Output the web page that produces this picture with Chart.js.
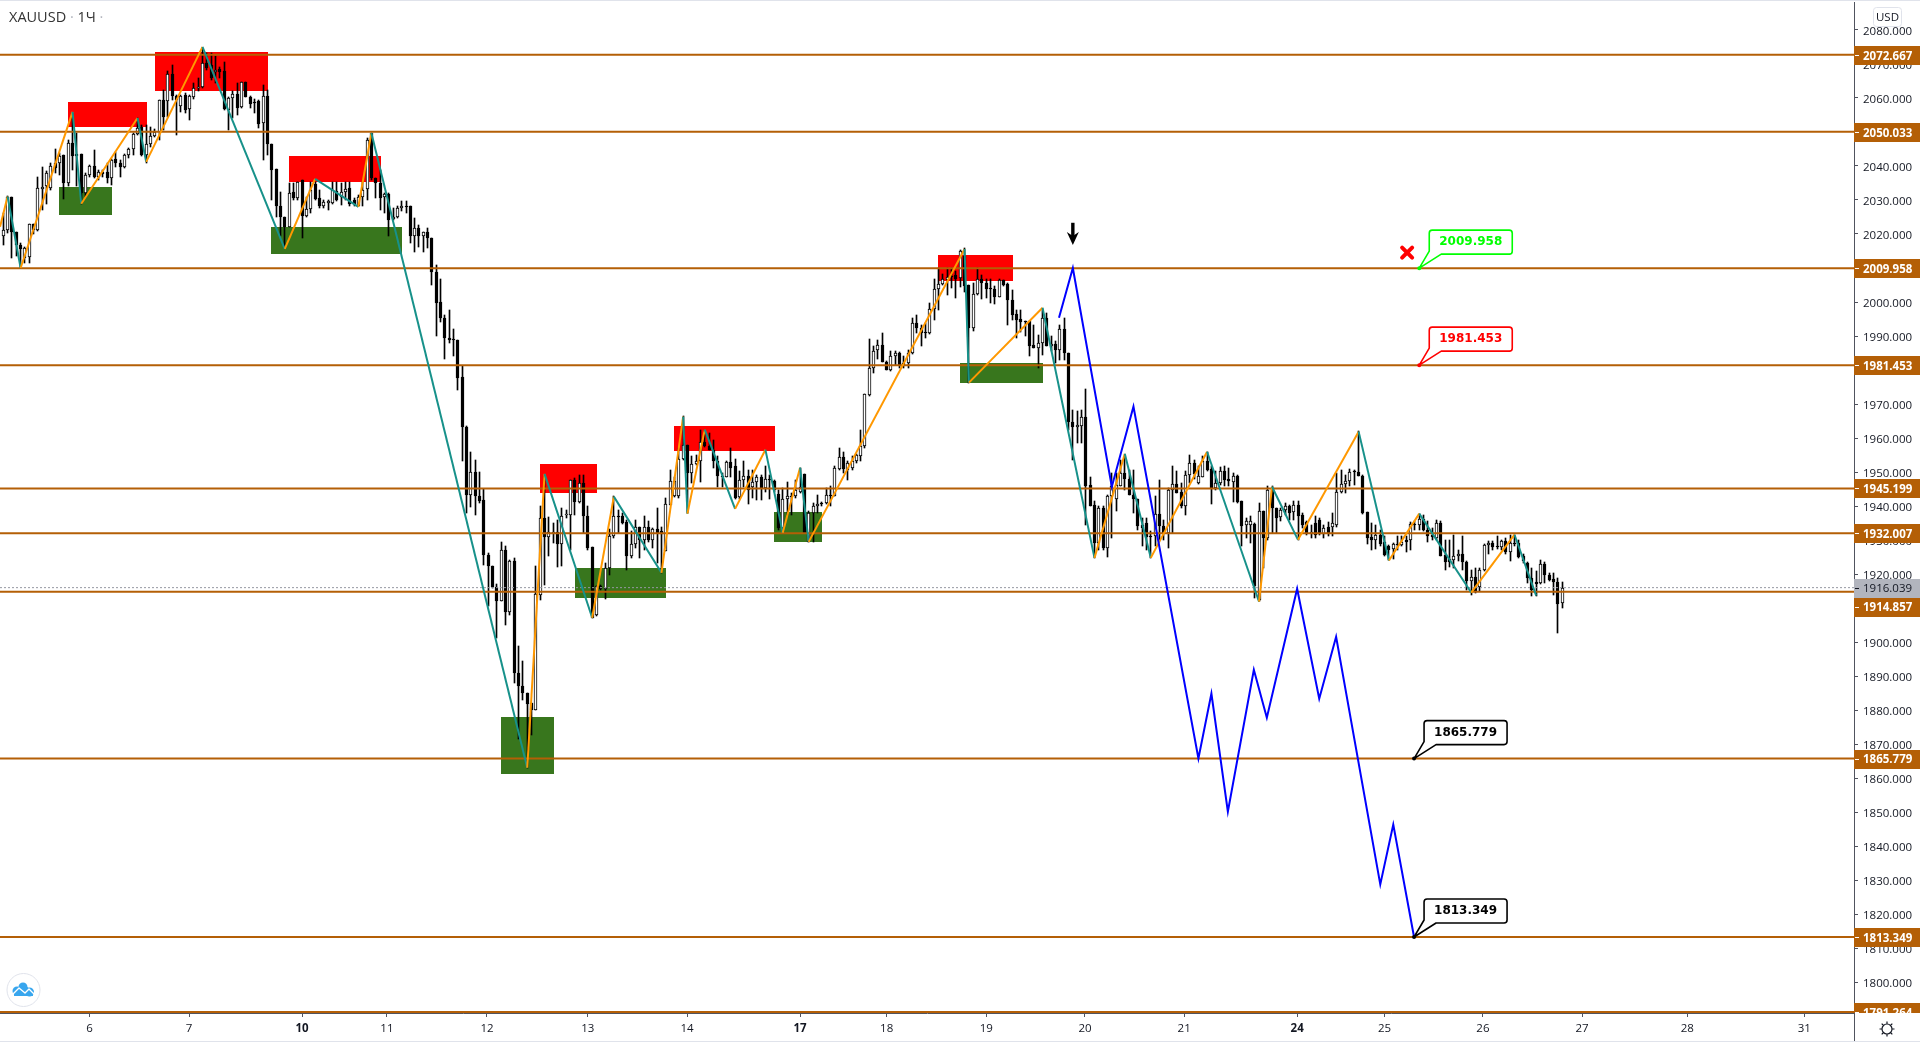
<!DOCTYPE html>
<html>
<head>
<meta charset="utf-8">
<title>XAUUSD</title>
<script src="https://cdn.jsdelivr.net/npm/chart.js@4"></script>
<style>
html, body { margin: 0; padding: 0; background: #fff; overflow: hidden; }
#grafico { display: block; }
</style>
</head>
<body>
<canvas id="grafico" width="1920" height="1044"></canvas>
<script>
const opens = [
2019.3,2021.2,2031,2020.5,2016.8,2012.9,2013.2,2023,2021.2,2033.3,
2034,2033.5,2040.8,2041,2043.3,2035.1,2046.7,2043.6,2043.6,2032,
2037.4,2040,2036.7,2038.1,2038.1,2036.4,2042,2041,2039.8,2043.1,
2044.9,2049.4,2051.6,2043.3,2046.5,2048.8,2050.1,2059.4,2059.2,2067.1,
2060.6,2057.7,2060.9,2056.7,2060.4,2062.8,2063.1,2070.4,2069.7,2067.5,
2068.4,2067.9,2056.5,2059.9,2061.2,2057.3,2064.7,2060.4,2058.9,2059.2,
2052.6,2060.6,2046.5,2039,2028.3,2025,2022.2,2032.2,2030.5,2035.9,
2025.3,2027.3,2034.6,2030.5,2028.3,2029.1,2029.1,2032.5,2031,2032.2,
2033.5,2030,2028.3,2031,2033.2,2049.6,2036.4,2034.9,2030.8,2031.8,
2024.4,2025,2027.6,2028.3,2028.3,2019.5,2021.7,2019.3,2020.5,2018.8,
2008.7,2000,1995.3,1989.5,1989,1988.9,1977.9,1963.3,1943.2,1950,
1943,1941.9,1925.7,1922.3,1916.1,1912,1927.2,1909,1923.9,1891,
1887.2,1885,1882,1880.2,1914,1936.5,1931,1932.2,1932.4,1929,
1937.5,1937.5,1947.8,1941.1,1946.8,1937.2,1928,1908,1916.6,1915.6,
1921.8,1931.1,1937.2,1937.2,1935.4,1925.2,1929,1933.9,1930.1,1933.9,
1930.1,1933.3,1932.6,1926.7,1940.4,1942.9,1942.9,1953.8,1958,1949.7,
1952.4,1953.4,1959,1957.6,1956.6,1953.2,1949,1948.7,1953,1951.7,
1942.6,1947.8,1949,1945.6,1947.1,1948.6,1945.4,1948,1947.4,1943.5,
1933.6,1942.1,1943,1942.9,1944.3,1949.5,1929.6,1938,1940,1940.9,
1940.9,1943.3,1942.9,1951,1954.4,1950.7,1951.2,1953.2,1954.8,1957.8,
1972.7,1980.6,1985.8,1987.4,1982.5,1979.9,1984,1985,1982,1982,
1985,1993.8,1992.3,1991.1,1990.9,1997.9,2003.8,2005.4,2006.5,2007.7,
2008,2007,2013.6,2005,1992.5,2002.3,2006.7,2005.7,2004.1,2003.8,
2001.6,2006.5,2005.3,2000.6,1996.4,1995,1994.3,1994.3,1987.4,1986.6,
1987.9,1995.3,1987.2,1987.7,1985.8,1992,1985,1964.6,1963.2,1963.7,
1966.2,1946.2,1940.4,1929.2,1939.4,1927.7,1942.9,1942,1946,1949.7,
1948,1943.4,1942.1,1934.5,1935,1931.3,1931.1,1937.8,1934.3,1932.1,
1944.8,1946.5,1944.3,1939.9,1949.2,1952.7,1946.8,1948.7,1953.2,1950.9,
1945.3,1946.8,1950.2,1948,1947,1949,1941.4,1934.5,1934.5,1934.8,
1912.5,1938.5,1930.6,1945.3,1939.4,1936.7,1938.8,1940.1,1938.2,1940.4,
1937.5,1935.2,1932,1935,1935.8,1931.9,1933.8,1933.9,1934.5,1944.3,
1946.5,1947.3,1950.3,1950,1949,1938.3,1930.8,1930.1,1931.6,1929.6,
1928.2,1927.4,1929,1928.7,1930.1,1930.1,1934.8,1934.5,1936.2,1933,
1931.6,1930.6,1935,1925.7,1924.5,1924.3,1925.2,1926,1923.5,1917.9,
1919.2,1916.1,1921.1,1928.5,1929.2,1928.4,1928,1929.8,1926.4,1929.3,
1929.1,1925.2,1923.3,1918.9,1917.6,1917.4,1923.1,1919.8,1918.7,1917.7,1911.5]

const closes = [
2021.2,2031,2020.5,2016.8,2015.5,2015.8,2023,2021.2,2033.5,2033.8,
2037.9,2040,2039.3,2043,2035.1,2046.7,2042.8,2042.8,2032,2037.4,
2040,2036.7,2038.1,2037.7,2036.4,2041.8,2041,2039.8,2043.3,2044.9,
2049.4,2051.1,2043.3,2046.5,2048.8,2050.1,2059.4,2054.5,2067.1,2060.6,
2059.4,2060.6,2056.5,2060.6,2062.8,2063.1,2070.4,2068.7,2065.8,2068.2,
2067.7,2056.7,2059.9,2061.2,2057,2064.7,2060.4,2058.2,2058.4,2052.4,
2060.6,2046.5,2038.9,2028.1,2025,2022.2,2032,2030.5,2035.4,2025.3,
2027.3,2033,2030.3,2028.3,2029.4,2029.6,2033,2030,2032.3,2033.2,
2028.9,2028.9,2031,2033,2047.7,2036.4,2034.9,2030.5,2031.8,2024.2,
2025,2027.6,2028.1,2028.1,2019.5,2021.7,2019.3,2020.5,2018.8,2008.7,
1999.7,1995.3,1989.3,1988.9,1988.7,1977.8,1963.2,1943.2,1950,1942.9,
1941.6,1925.5,1922.3,1916.1,1912,1927,1909,1923.8,1891,1887.2,
1885,1881.7,1880,1914.3,1936.5,1930.9,1932.3,1932.4,1929,1937,
1937.8,1947.8,1941.1,1946.8,1937,1927.7,1907,1916.6,1915.6,1921.8,
1931.3,1937.2,1936.8,1935,1925.2,1929,1933.9,1930.1,1933.9,1930,
1933.3,1932.1,1931.9,1940.6,1947.5,1947.5,1953.8,1958,1949.7,1952.4,
1953.4,1959,1957.6,1956.6,1953.2,1949,1948.6,1953,1951.3,1942.4,
1947.8,1949,1944.8,1947.1,1948.6,1945.3,1948,1947.6,1944.8,1933.6,
1942.1,1942.9,1942.7,1944.6,1945.6,1932.1,1938,1940,1940.6,1940.5,
1943.3,1943.1,1951.2,1954.4,1950.9,1952.7,1953.2,1955.1,1957.8,1973,
1980.6,1985.5,1987.4,1982.5,1979.9,1984,1985,1981.6,1981.6,1985,
1993.8,1992.3,1990.9,1990.8,1997.9,2003.8,2005.4,2006.7,2007.3,2007.3,
2006.7,2015.1,2004.6,1992.5,2002.3,2006.7,2005.7,2003.8,2003.8,2001.6,
2006.5,2005,2000.5,1996.3,1994.8,1994,1994,1987.2,1986.6,1987.9,
1995.3,1987,1987.6,1985.8,1992,1985,1964.6,1963.2,1963.9,1966.2,
1946,1940.1,1929.2,1939.4,1927.7,1943,1945.8,1946.3,1949.7,1948,
1943.4,1942.1,1934.3,1933.5,1930.9,1930.9,1937.8,1934.06,1932.1,1944.8,
1946.5,1944,1940,1949.2,1952.7,1949.5,1949,1953.2,1950.7,1945.3,
1946.8,1950.2,1947.8,1947.3,1949,1941.1,1934.06,1935.5,1935.5,1916.4,
1938.5,1930.6,1944.8,1939.4,1936.5,1939,1940.1,1938,1940.4,1937.2,
1934.5,1932.1,1932.5,1931.6,1931.9,1933.6,1931.9,1934.9,1944.3,1946.5,
1947.5,1950,1950,1948.9,1938,1930.6,1930.1,1931.6,1929,1925.7,
1927,1929,1928.8,1929.6,1929.6,1934.8,1934.4,1936.2,1933,1931.1,
1930.9,1935,1925.4,1923.5,1923.5,1925.4,1926,1923.5,1917.9,1919.2,
1914.7,1921.3,1928.7,1929.2,1927.9,1928,1929.8,1926.4,1929.3,1929.1,
1925,1924,1918.9,1915.4,1917.1,1923.1,1919.7,1918.4,1917.6,1911.3,1916.04]

const highs = [
2026.1,2031.2,2031,2020.7,2017.3,2016.1,2023,2023,2036.9,2039.8,
2038.4,2040.8,2045,2043.7,2043.3,2047.7,2055.7,2049.8,2043.6,2037.9,
2040.3,2044.7,2038.9,2038.9,2040.8,2042,2044.2,2041.8,2043.6,2045.2,
2049.8,2054.2,2052,2052,2051.6,2050.8,2059.4,2062.2,2067.9,2069.7,
2060.9,2060.9,2061.4,2060.9,2064.3,2065.8,2074.6,2073.1,2073.1,2072.2,
2069.2,2070.7,2060.4,2061.9,2064.3,2064.8,2064.8,2060.6,2059.6,2059.4,
2063.8,2062.4,2046.5,2039,2032.2,2025,2034.9,2034.9,2035.4,2035.9,
2031,2035.4,2035.4,2033,2030,2030,2035.4,2035.4,2035.1,2035.4,
2035.4,2030.5,2031.5,2035.4,2048.2,2049.6,2036.4,2038.9,2032,2032,
2027.6,2028.3,2029.6,2029.8,2028.3,2024.6,2022.7,2020.7,2021.7,2018.8,
2010.9,2006.7,1996.3,1997.7,1992,1988.9,1981.3,1963.6,1956,1953.6,
1950,1945.1,1926.2,1922.3,1917.2,1929.6,1928.2,1924.3,1924.8,1899,
1894.4,1885,1882,1922.3,1939.9,1949,1936.8,1935,1935.8,1939.4,
1939,1947.8,1948.3,1949.2,1949.2,1940.1,1928,1916.6,1916.9,1923.3,
1933.3,1942.9,1939,1938,1935.8,1932.6,1936,1934,1937.2,1935.5,
1933.6,1939.4,1934,1942.4,1950.7,1948.7,1957,1966.4,1958,1954.6,
1955.1,1962.3,1962.5,1961.5,1959.5,1954.6,1949.7,1953.3,1957,1953.8,
1950.2,1953.4,1950.7,1950.7,1949.2,1949.2,1951.7,1949.2,1947.8,1944.8,
1945.3,1947,1943.8,1947.8,1951.2,1949.5,1938.5,1940.9,1943.4,1941.1,
1945.3,1946,1951.7,1957,1955.8,1953.2,1954.8,1955.2,1962.4,1973,
1989.1,1987,1988.9,1990.9,1982.7,1985.5,1985.5,1985.2,1984,1986,
1995.3,1996.2,1993.3,1993.8,1999.7,2006.7,2010,2008.3,2010,2010,
2009,2015.4,2015.8,2005,2005.5,2010,2008,2006.7,2006.7,2004.8,
2006.7,2006.5,2005.5,2003.6,1997.7,1997.7,1994.3,1994.3,1993.3,1990.4,
1998,1996.7,1989.9,1988.4,1993.3,1995.3,1985,1968.3,1968.1,1968.3,
1974.4,1948.7,1941.4,1940.1,1940,1943.4,1949.7,1949.7,1953.6,1954.6,
1950.7,1950.7,1942.1,1936.5,1936.5,1932.6,1942.9,1947.8,1936,1945.3,
1951.7,1950.2,1946.8,1950.2,1955.1,1953.6,1951.7,1954.6,1956,1951.7,
1950.2,1951.5,1951.7,1951.2,1949.7,1949.2,1941.4,1936.6,1937,1935,
1941,1938.5,1945.8,1945.8,1939.4,1939.4,1941,1940.4,1941.4,1941.4,
1938,1935.5,1934.5,1937,1936.5,1934.5,1935.2,1938,1949.7,1950.7,
1949.2,1950.9,1950.7,1962,1949.2,1938.3,1935,1934.5,1933,1931.1,
1928.7,1929.2,1931.3,1931.1,1931.3,1935.2,1935.5,1937.8,1937.5,1935.5,
1933.5,1935.8,1935.5,1930,1930,1931.6,1927,1931.1,1923.8,1921.3,
1921.8,1921.8,1929,1929.7,1929.7,1931.3,1930.1,1930.6,1931.6,1931.6,
1930.1,1926,1923.5,1921.8,1920.8,1924.1,1923.5,1920.3,1920.3,1918.9,1917.7]

const lows = [
2016.8,2020.2,2012.9,2013.4,2010,2011.4,2011.4,2019.9,2021,2027.1,
2028.9,2033,2037.9,2037.4,2030.3,2034,2038.8,2034,2028.9,2031,
2036.9,2036.4,2036,2036.9,2035,2034.4,2039.8,2036.9,2039.3,2042.3,
2043.3,2049.1,2042.8,2040.8,2045.7,2048.4,2047.7,2050.6,2054.5,2059.4,
2049.1,2056,2055.5,2053.4,2059.6,2061.9,2062.8,2068.2,2065.3,2064.3,
2065.8,2056.5,2050.6,2054,2055,2057,2060.4,2057,2055.5,2051.1,
2041.8,2043.3,2030,2025.1,2019.3,2015.8,2022,2030,2030,2018.8,
2025,2026.1,2030,2027.6,2027.6,2027.1,2028.9,2029.8,2028.6,2030,
2028.1,2028.1,2028.1,2028.1,2030,2035.9,2030.5,2027.1,2026.1,2019.3,
2024.2,2024.7,2026.9,2026.1,2017.3,2014.6,2016.3,2014.8,2015.8,2005.1,
1989.9,1994,1983.4,1987.9,1984,1974,1953.2,1938,1939.7,1937.5,
1940.9,1922.8,1910.5,1916,1901.2,1912,1905.2,1908,1888,1871.4,
1883,1863,1872.8,1880,1912.5,1916.9,1925.4,1929.2,1922,1922.3,
1936.5,1927.2,1937.5,1941,1932.1,1927,1907.1,1907.8,1915.4,1912.8,
1919.8,1930.6,1932.1,1934.8,1921.3,1924.8,1927.7,1924.8,1927.2,1929.6,
1927.7,1923.3,1920.3,1926.7,1940.4,1942.8,1942.5,1953.6,1938,1946.8,
1952.2,1947,1957.4,1956.5,1951.2,1945.6,1945.6,1948.5,1948.7,1942.2,
1942.2,1945.6,1940.7,1942.4,1941.9,1941.9,1944.3,1942.1,1944.3,1932.9,
1932.6,1937.5,1937.5,1942.4,1944,1932,1929.6,1929.6,1938,1940.1,
1940.7,1940,1942.9,1950.7,1949.7,1947.8,1950.5,1952.7,1953.2,1957,
1972.3,1979.1,1983.2,1982.3,1979.9,1979.6,1981.6,1980.6,1980.6,1980.6,
1984.8,1990.9,1987,1989.4,1990.7,1994.6,1997.7,2005,2002.1,2004.1,
2001.1,2004.4,2003,1976.2,1991.6,2002.1,2000.8,2001.2,1999.7,1999.5,
2001.4,2004.8,1993.3,1994.8,1989.4,1991.3,1989.9,1984.2,1986.4,1980.6,
1984.5,1987,1985.5,1982,1983,1983,1962.5,1953.6,1958.5,1958.5,
1934.5,1940,1924.7,1927.2,1927.2,1925,1930.6,1938.5,1945.8,1944.8,
1943.4,1938,1933.1,1928.2,1927.2,1924.7,1928.2,1930.1,1930.1,1927.7,
1932.1,1943.8,1939.4,1937.5,1946.8,1948,1946.6,1948.5,1950.2,1940.7,
1944.8,1946.3,1945.8,1945.8,1941.1,1940.9,1928.2,1930.6,1929.2,1913,
1912,1921.8,1930.1,1932.1,1932.1,1935.5,1937.5,1936,1936,1930.1,
1933.5,1931.6,1930.6,1930.6,1931.6,1930.6,1931.3,1931.1,1934,1944,
1944,1946,1946.3,1948.9,1937.8,1929,1927.2,1927.4,1928.2,1925.4,
1924.3,1924.5,1927.2,1928.2,1926.4,1927,1933,1933,1932.6,1929.4,
1930,1930.1,1925.2,1921.3,1922,1921.8,1924,1921.3,1915.4,1914,
1914.5,1915,1920.8,1926,1927.2,1927.4,1927.2,1926,1923.8,1928.2,
1924.8,1923.3,1917.4,1913.5,1913.7,1917.2,1917.4,1917.9,1914,1902.7,1910]

// ziguezague desenhado por cima das velas
const zigzagBars = [-0.76,1,4,16,18,31,33,46,65,72,82,85,121,125,136,141,152,157,158,162,169,176,180,184,186,222,223,240,252,259,265,278,290,293,299,313,320,327,339,349,354]
const zigzagPrices = [2022.1,2031,2010,2055.9,2028.9,2054.1,2041.2,2075,2015.6,2036.2,2028,2049.7,1863.1,1949.5,1907.2,1942.8,1920.4,1966.3,1937.8,1962.5,1939.2,1956.6,1932.2,1951.3,1929.5,2015.6,1976.3,1998.3,1924.8,1955.4,1924.8,1956,1911.9,1945.7,1930.1,1961.9,1924,1937.8,1914.6,1931.6,1913.7]

// projecao em azul
const projBars = [243.8,247,256,261,276,279,282.8,288.8,291.8,298.8,303.9,307.8,318,321,325.8]
const projPrices = [1995.4,2010,1945.7,1969.3,1865.8,1884.9,1850.2,1891.9,1877.8,1915.7,1883.4,1901.6,1828.8,1846.4,1813.35]

const levels = [2072.667,2050.033,2009.958,1981.453,1945.199,1932.007,1914.857,1865.779,1813.349,1791.264]
const lastPrice = 1916.039

const redFrom = [14.9,35,66,123.9,154.9,215.9]
const redTo = [33.2,61.1,87.2,137.1,178.2,233.2]
const redHigh = [2058.8,2073.5,2043,1952.5,1963.6,2013.9]
const redLow = [2051.5,2062.1,2035.3,1943.9,1956.3,2006.2]
const greenFrom = [12.9,61.8,114.9,132,178,221]
const greenTo = [25.1,92.1,127.2,153,189.1,240.1]
const greenHigh = [2033.9,2022.1,1878.1,1921.9,1938.4,1982.1]
const greenLow = [2025.6,2014.2,1861.4,1913.1,1929.5,1976.3]

const calloutBars = [327,327,325.8,325.8]
const calloutPrices = [2009.958,1981.453,1865.779,1813.349]
const calloutColors = ['#00FF00','#FF0000','#000000','#000000']

const arrowBar = 247
const arrowTop = 2023.3
const arrowTip = 2016.8
const crossBar = 324.2
const crossPrice = 2014.5

const dayLabels = ['6','7','10','11','12','13','14','17','18','19','20','21','24','25','26','27','28','31']
const dayBars = [19.9,42.9,69,88.6,111.7,135,157.9,184,204,227,249.8,272.7,298.8,319,341.7,364.6,388.9,415.9]
const boldDays = ['10','17','24']
const priceTicks = [1800,1810,1820,1830,1840,1850,1860,1870,1880,1890,1900,1910,1920,1930,1940,1950,1960,1970,1980,1990,2000,2010,2020,2030,2040,2050,2060,2070,2080]

const MARROM = '#B45F06'
const FONTE = '"Open Sans", sans-serif'
const barIdx = opens.map((_, i) => i)

const roundBox = (c, x, y, w, h, r) => {
    c.beginPath()
    c.roundRect(x, y, w, h, r)
}

// alinha as velas na grade de pixels para ficarem nitidas
const nitidez = {
    id: 'nitidez',
    beforeDatasetsDraw(chart) {
        chart.data.datasets.forEach((ds, n) => {
            if (ds.type !== 'bar') return
            chart.getDatasetMeta(n).data.forEach(b => {
                b.x = Math.floor(b.x) + 0.5
                b.y = Math.round(b.y)
                b.base = Math.round(b.base)
                if (b.y === b.base) b.base += 1
            })
        })
    }
}

const zonas = {
    id: 'zonas',
    beforeDatasetsDraw(chart) {
        const { ctx: c, scales: { x, y } } = chart
        const caixa = (de, ate, alto, baixo, cor) => de.forEach((v, i) => {
            const x0 = x.getPixelForValue(v), x1 = x.getPixelForValue(ate[i])
            const y0 = y.getPixelForValue(alto[i]), y1 = y.getPixelForValue(baixo[i])
            c.fillStyle = cor
            c.fillRect(Math.round(x0), Math.round(y0), Math.round(x1 - x0), Math.round(y1 - y0))
        })
        caixa(redFrom, redTo, redHigh, redLow, '#FF0000')
        caixa(greenFrom, greenTo, greenHigh, greenLow, '#38761D')
    }
}

const extras = {
    id: 'extras',
    afterDraw(chart) {
        const { ctx: c, scales: { x, y } } = chart
        c.save()

        // balões de preço
        calloutBars.forEach((b, i) => {
            const ax = x.getPixelForValue(b), ay = y.getPixelForValue(calloutPrices[i])
            const cor = calloutColors[i]
            const l = ax + 10, t = ay - 38, w = 83, h = 24
            c.strokeStyle = cor
            c.lineWidth = 1.6
            c.lineJoin = 'round'
            c.fillStyle = '#fff'
            c.beginPath()
            c.moveTo(l + 3, t)
            c.lineTo(l + w - 3, t)
            c.quadraticCurveTo(l + w, t, l + w, t + 3)
            c.lineTo(l + w, t + h - 3)
            c.quadraticCurveTo(l + w, t + h, l + w - 3, t + h)
            c.lineTo(l + 12, t + h)
            c.lineTo(ax, ay)
            c.lineTo(l, t + h - 3)
            c.lineTo(l, t + 3)
            c.quadraticCurveTo(l, t, l + 3, t)
            c.closePath()
            c.fill()
            c.stroke()
            c.fillStyle = cor
            c.beginPath()
            c.arc(ax, ay, 2, 0, Math.PI * 2)
            c.fill()
            c.font = 'bold 12px "DejaVu Sans"'
            c.textAlign = 'center'
            c.textBaseline = 'middle'
            c.fillText(calloutPrices[i].toFixed(3), l + w / 2, t + h / 2)
        })

        // X vermelho
        const cx = x.getPixelForValue(crossBar), cy = y.getPixelForValue(crossPrice)
        c.strokeStyle = '#FF0000'
        c.lineWidth = 4
        c.lineCap = 'round'
        c.beginPath()
        c.moveTo(cx - 5, cy - 5); c.lineTo(cx + 5, cy + 5)
        c.moveTo(cx + 5, cy - 5); c.lineTo(cx - 5, cy + 5)
        c.stroke()

        // seta preta
        const sx = x.getPixelForValue(arrowBar), s0 = y.getPixelForValue(arrowTop), s1 = y.getPixelForValue(arrowTip)
        c.strokeStyle = '#000'
        c.lineWidth = 3.4
        c.lineCap = 'butt'
        c.beginPath()
        c.moveTo(sx, s0); c.lineTo(sx, s1 - 4)
        c.stroke()
        c.fillStyle = '#000'
        c.beginPath()
        c.moveTo(sx, s1)
        c.lineTo(sx - 6, s1 - 13)
        c.lineTo(sx, s1 - 9)
        c.lineTo(sx + 6, s1 - 13)
        c.closePath()
        c.fill()

        // etiquetas de preço
        const right = x.right
        c.save()
        c.beginPath()
        c.rect(right, 0, 1920 - right, y.bottom)
        c.clip()
        const lastY = y.getPixelForValue(lastPrice)
        const etiqueta = (py, txt, fundo, letra, peso) => {
            c.fillStyle = fundo
            c.fillRect(right, Math.round(py - 9), 66, 19)
            c.fillStyle = letra
            c.fillRect(right + 1, Math.round(py), 4, 1)
            c.font = `${peso} 11.5px ${FONTE}`
            c.textAlign = 'left'
            c.textBaseline = 'middle'
            c.fillText(txt, right + 9, py + 1.5)
        }
        etiqueta(lastY, lastPrice.toFixed(3), '#B2B5BE', '#131722', 'normal')
        levels.forEach(v => {
            let py = y.getPixelForValue(v)
            if (Math.abs(py - lastY) < 19) py = lastY + 19
            etiqueta(py, v.toFixed(3), MARROM, '#fff', 'bold')
        })
        c.restore()

        // eixo direito ate o fim da faixa inferior
        c.fillStyle = '#50535E'
        c.fillRect(right, y.bottom, 1, 1041 - y.bottom)

        // botao USD
        c.fillStyle = '#fff'
        c.strokeStyle = '#E0E3EB'
        c.lineWidth = 1
        roundBox(c, 1873.5, 7.5, 28, 19, 3)
        c.fill()
        c.stroke()
        c.fillStyle = '#131722'
        c.font = `11.5px ${FONTE}`
        c.textAlign = 'center'
        c.textBaseline = 'middle'
        c.fillText('USD', 1887.5, 17.5)

        // engrenagem
        c.strokeStyle = '#131722'
        c.lineWidth = 1.2
        c.beginPath()
        c.arc(1887, 1029, 5, 0, Math.PI * 2)
        for (let a = 0; a < 8; a++) {
            const r = a * Math.PI / 4
            c.moveTo(1887 + Math.cos(r) * 5, 1029 + Math.sin(r) * 5)
            c.lineTo(1887 + Math.cos(r) * 7.5, 1029 + Math.sin(r) * 7.5)
        }
        c.stroke()

        // logo
        c.fillStyle = '#fff'
        c.strokeStyle = '#E0E3EB'
        c.lineWidth = 1
        c.beginPath()
        c.arc(23.5, 990, 16.5, 0, Math.PI * 2)
        c.fill()
        c.stroke()
        c.fillStyle = '#38A6EE'
        c.beginPath()
        c.arc(17, 991, 4.5, 0, Math.PI * 2)
        c.arc(23, 987, 4.5, 0, Math.PI * 2)
        c.arc(29.5, 992, 4.5, 0, Math.PI * 2)
        c.rect(14, 991, 19, 5)
        c.fill()
        c.strokeStyle = '#fff'
        c.lineWidth = 1.4
        c.beginPath()
        c.moveTo(12, 995); c.lineTo(19, 988); c.lineTo(25, 993); c.lineTo(29, 989); c.lineTo(34, 994)
        c.stroke()

        // titulo
        c.textAlign = 'left'
        c.textBaseline = 'middle'
        c.font = `14.5px ${FONTE}`
        let tx = 9
        const pedaco = (txt, cor) => {
            c.fillStyle = cor
            c.fillText(txt, tx, 18)
            tx += c.measureText(txt).width
        }
        pedaco('XAUUSD', '#333')
        pedaco(' · ', '#B2B5BE')
        pedaco('1Ч', '#333')
        pedaco(' ·', '#B2B5BE')

        // bordas da janela
        c.fillStyle = '#E0E3EB'
        c.fillRect(0, 0, 1920, 1)
        c.fillRect(0, 1041, 1920, 1)
        c.restore()
    }
}

const velasPavio = barIdx.map(i => ({ x: i, y: [lows[i], highs[i]] }))
const velasCorpo = barIdx.map(i => ({ x: i, y: [opens[i], closes[i]] }))
const xMin = -0.762, xMax = 427.4

const datasets = [
    {
        type: 'bar', data: velasPavio, order: 6, grouped: false, barThickness: 1,
        backgroundColor: '#000', borderWidth: 0
    },
    {
        type: 'bar', data: velasCorpo, order: 5, grouped: false, barThickness: 3,
        backgroundColor: barIdx.map(i => closes[i] >= opens[i] ? '#fff' : '#000'),
        borderColor: '#000', borderWidth: 1, borderSkipped: false
    },
    {
        type: 'line', order: 4, borderColor: '#9598A1', borderWidth: 1, borderDash: [2, 2], pointRadius: 0,
        data: [{ x: xMin, y: lastPrice }, { x: xMax, y: lastPrice }]
    },
    ...levels.map(v => ({
        type: 'line', order: 3, borderColor: MARROM, borderWidth: 2, pointRadius: 0,
        data: [{ x: xMin, y: v }, { x: xMax, y: v }]
    })),
    {
        type: 'line', order: 2, borderWidth: 2, pointRadius: 0, tension: 0,
        borderColor: '#FF9800',
        segment: { borderColor: s => s.p1.parsed.y > s.p0.parsed.y ? '#FF9800' : '#17918A' },
        data: zigzagBars.map((b, i) => ({ x: b, y: zigzagPrices[i] }))
    },
    {
        type: 'line', order: 1, borderColor: '#0000FF', borderWidth: 2, pointRadius: 0, tension: 0,
        data: projBars.map((b, i) => ({ x: b, y: projPrices[i] }))
    }
]

new Chart(document.getElementById('grafico'), {
    type: 'bar',
    data: { datasets },
    plugins: [zonas, nitidez, extras],
    options: {
        responsive: false,
        devicePixelRatio: 1,
        animation: false,
        layout: { padding: { top: 2, bottom: 3, left: 0, right: 0 } },
        plugins: { legend: { display: false }, tooltip: { enabled: false } },
        scales: {
            x: {
                type: 'linear', min: xMin, max: xMax, offset: false,
                border: { display: true, color: '#50535E' },
                grid: { offset: false, drawOnChartArea: false, drawTicks: true, tickLength: 4, color: '#50535E' },
                afterBuildTicks: s => { s.ticks = dayBars.map(v => ({ value: v })) },
                afterFit: s => { s.height = 28; s.paddingLeft = 0; s.paddingRight = 0 },
                ticks: {
                    autoSkip: false, maxRotation: 0, padding: 5, color: '#131722',
                    font: c => ({
                        family: FONTE, size: 11.5,
                        weight: c.tick && boldDays.includes(dayLabels[dayBars.indexOf(c.tick.value)]) ? 'bold' : 'normal'
                    }),
                    callback: v => dayLabels[dayBars.indexOf(v)]
                }
            },
            y: {
                type: 'linear', position: 'right', min: 1791, max: 2088.2,
                border: { display: true, color: '#50535E' },
                grid: { drawOnChartArea: false, drawTicks: true, tickLength: 4, color: '#50535E' },
                afterBuildTicks: s => { s.ticks = priceTicks.map(v => ({ value: v })) },
                afterFit: s => { s.width = 66; s.paddingTop = 0; s.paddingBottom = 0 },
                ticks: {
                    padding: 5, labelOffset: 1.5, color: '#131722', font: { family: FONTE, size: 11.5 },
                    callback: v => v.toFixed(3)
                }
            }
        }
    }
})
</script>
</body>
</html>
